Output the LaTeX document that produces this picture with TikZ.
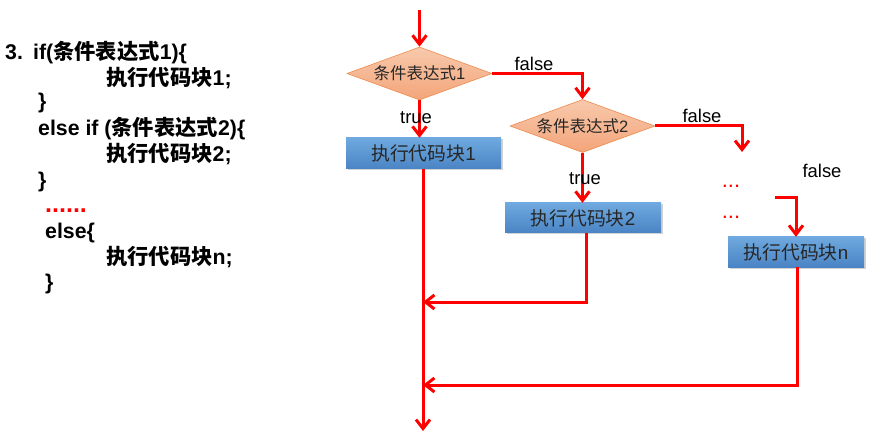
\documentclass[tikz,border=0pt]{standalone}
\usepackage{fontspec}
\setmainfont{Liberation Sans}
\newfontfamily\cjk{Noto Sans CJK SC}
\usetikzlibrary{arrows.meta,shapes.geometric,shadows}
\definecolor{flowred}{HTML}{FF0000}
\definecolor{boxtop}{HTML}{6FA9DF}
\definecolor{boxbot}{HTML}{4A84C4}
\definecolor{diatop}{HTML}{F8C9AC}
\definecolor{diabot}{HTML}{F3A57A}
\definecolor{diaedge}{HTML}{EE8A4E}
\tikzset{
  codetxt/.style={anchor=base west, inner sep=0pt, font=\fontsize{21.3}{24}\selectfont\bfseries},
  flow/.style={draw=flowred, line width=3pt, -{Straight Barb[length=9pt,width=14pt,line width=3pt]}},
  cond/.style={diamond, draw=diaedge, line width=0.6pt, top color=diatop, bottom color=diabot,
    minimum width=145pt, minimum height=53pt, inner sep=0pt, aspect=2.7,
    font=\fontsize{16.5}{18}\selectfont, text=black!85},
  block/.style={rectangle, top color=boxtop, bottom color=boxbot, inner sep=0pt,
    drop shadow={shadow xshift=1.5pt, shadow yshift=-1.5pt, opacity=0.35},
    font=\fontsize{18.8}{20}\selectfont, text=black!85},
  lbl/.style={inner sep=0pt, font=\fontsize{18.4}{20}\selectfont},
  reddots/.style={inner sep=0pt, text=flowred, font=\fontsize{22}{24}\selectfont}
}
\begin{document}
\begin{tikzpicture}[x=1pt,y=-1pt]
\useasboundingbox[fill=white] (0,0) rectangle (871,433);

% code listing
\node[codetxt] (n3) at (5,60) {3.};
\node[codetxt] (l1) at (33,60) {if({\cjk\bfseries 条件表达式}1)\{};
\node[codetxt] (l2) at (106,86) {{\cjk\bfseries 执行代码块}1;};
\node[codetxt] (l3) at (38,109) {\}};
\node[codetxt] (l4) at (38,136) {else if ({\cjk\bfseries 条件表达式}2)\{};
\node[codetxt] (l5) at (106,162) {{\cjk\bfseries 执行代码块}2;};
\node[codetxt] (l6) at (38,188) {\}};
\node[codetxt, text=flowred, font=\fontsize{25}{26}\selectfont\bfseries] (l7) at (45,213) {......};
\node[codetxt] (l8) at (45,239) {else\{};
\node[codetxt] (l9) at (106,265) {{\cjk\bfseries 执行代码块}n;};
\node[codetxt] (l10) at (45,289) {\}};

% flowchart nodes
\node[cond] (d1) at (419.5,73.5) {{\cjk 条件表达式}1};
\node[cond] (d2) at (582.5,126) {{\cjk 条件表达式}2};
\node[block, minimum width=155pt, minimum height=31pt] (b1) at (423.5,153.5) {{\cjk 执行代码块}1};
\node[block, minimum width=156pt, minimum height=30pt] (b2) at (583,218) {{\cjk 执行代码块}2};
\node[block, minimum width=136pt, minimum height=30pt] (bn) at (796,252) {{\cjk 执行代码块}n};

\coordinate (start) at (419.5,10);
\coordinate (m1) at (423,302);
\coordinate (m2) at (423,385);
\coordinate (fin) at (423,431);
\coordinate (c1) at (742,152);
\coordinate (c2) at (775,198);

% connectors
\draw[flow] (start) -- (d1.north);
\draw[flow] (d1.south) -- (d1.south |- b1.north);
\draw[flow] (d1.east) -| (d2.north);
\draw[flow] (d2.south) -- (d2.south |- b2.north);
\draw[flow] (d2.east) -| (c1);
\draw[flow] (c2) -| (bn.north);
\draw[flow] (m1 |- b1.south) -- (fin);
\draw[flow] (b2.south -| 586,0) |- (m1);
\draw[flow] (bn.south -| 797,0) |- (m2);

% labels
\node[lbl] (t1) at (416,118) {true};
\node[lbl] (t2) at (585,179) {true};
\node[lbl] (f1) at (534,64) {false};
\node[lbl] (f2) at (702,116) {false};
\node[lbl] (f3) at (822,171) {false};
\node[reddots] (e1) at (731,186) {...};
\node[reddots] (e2) at (731,217) {...};
\end{tikzpicture}
\end{document}
